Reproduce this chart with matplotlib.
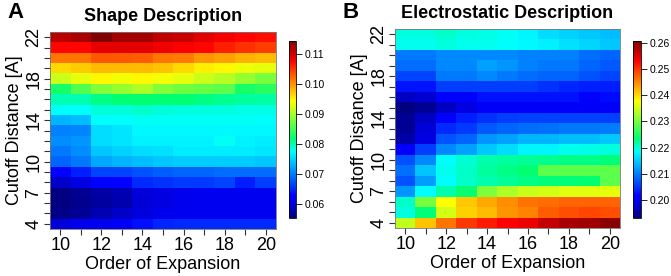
import numpy as np
import matplotlib
matplotlib.use("Agg")
import matplotlib.pyplot as plt
from matplotlib.colors import LinearSegmentedColormap, Normalize

plt.rcParams['font.family'] = ['Liberation Sans', 'DejaVu Sans']

orders = [10, 11, 12, 13, 14, 15, 16, 17, 18, 19, 20]
cutoffs_top_down = [22, 21, 20, 19, 18, 17, 16, 15, 14, 13, 12, 11, 10, 9, 8, 7, 6, 5, 4]
x_tick_labels = ["10", "12", "14", "16", "18", "20"]
y_tick_labels = ["4", "7", "10", "14", "18", "22"]

# Shape description (rows: cutoff 22 -> 4, columns: order 10 -> 20)
shape_values = [
    [0.1112, 0.1122, 0.1144, 0.1125, 0.1125, 0.1110, 0.1105, 0.1092, 0.1082, 0.1075, 0.1072],
    [0.1075, 0.1075, 0.1090, 0.1092, 0.1092, 0.1085, 0.1080, 0.1075, 0.1062, 0.1052, 0.1045],
    [0.1015, 0.1015, 0.1032, 0.1032, 0.1030, 0.1015, 0.1013, 0.0998, 0.0992, 0.0983, 0.0980],
    [0.0963, 0.0969, 0.0980, 0.0980, 0.0980, 0.0975, 0.0963, 0.0951, 0.0946, 0.0935, 0.0931],
    [0.0916, 0.0931, 0.0946, 0.0937, 0.0946, 0.0937, 0.0931, 0.0916, 0.0907, 0.0892, 0.0878],
    [0.0830, 0.0858, 0.0882, 0.0892, 0.0902, 0.0882, 0.0872, 0.0868, 0.0863, 0.0830, 0.0838],
    [0.0800, 0.0800, 0.0812, 0.0820, 0.0820, 0.0820, 0.0820, 0.0816, 0.0810, 0.0806, 0.0803],
    [0.0775, 0.0776, 0.0788, 0.0788, 0.0791, 0.0788, 0.0785, 0.0785, 0.0785, 0.0782, 0.0782],
    [0.0731, 0.0737, 0.0775, 0.0776, 0.0778, 0.0778, 0.0778, 0.0778, 0.0778, 0.0778, 0.0776],
    [0.0702, 0.0705, 0.0755, 0.0760, 0.0772, 0.0772, 0.0772, 0.0772, 0.0772, 0.0772, 0.0772],
    [0.0708, 0.0713, 0.0755, 0.0760, 0.0767, 0.0767, 0.0767, 0.0767, 0.0777, 0.0767, 0.0765],
    [0.0697, 0.0708, 0.0743, 0.0749, 0.0755, 0.0758, 0.0765, 0.0765, 0.0765, 0.0765, 0.0762],
    [0.0685, 0.0697, 0.0725, 0.0731, 0.0737, 0.0743, 0.0746, 0.0746, 0.0746, 0.0746, 0.0743],
    [0.0625, 0.0644, 0.0668, 0.0668, 0.0674, 0.0680, 0.0685, 0.0685, 0.0690, 0.0690, 0.0690],
    [0.0590, 0.0605, 0.0622, 0.0628, 0.0650, 0.0656, 0.0660, 0.0660, 0.0668, 0.0645, 0.0662],
    [0.0553, 0.0563, 0.0572, 0.0580, 0.0600, 0.0605, 0.0610, 0.0612, 0.0612, 0.0612, 0.0612],
    [0.0553, 0.0562, 0.0570, 0.0578, 0.0598, 0.0605, 0.0610, 0.0612, 0.0612, 0.0612, 0.0612],
    [0.0558, 0.0565, 0.0580, 0.0590, 0.0603, 0.0610, 0.0613, 0.0613, 0.0613, 0.0613, 0.0613],
    [0.0600, 0.0610, 0.0612, 0.0615, 0.0635, 0.0648, 0.0650, 0.0650, 0.0650, 0.0650, 0.0650],
]

# Electrostatic description (rows: cutoff 22 -> 4, columns: order 10 -> 20)
electro_values = [
    [0.2198, 0.2198, 0.2205, 0.2196, 0.2194, 0.2189, 0.2180, 0.2162, 0.2156, 0.2149, 0.2142],
    [0.2193, 0.2191, 0.2196, 0.2193, 0.2191, 0.2187, 0.2182, 0.2175, 0.2165, 0.2159, 0.2149],
    [0.2096, 0.2096, 0.2109, 0.2109, 0.2109, 0.2109, 0.2103, 0.2103, 0.2103, 0.2090, 0.2083],
    [0.2090, 0.2090, 0.2109, 0.2109, 0.2123, 0.2116, 0.2103, 0.2096, 0.2096, 0.2083, 0.2076],
    [0.2063, 0.2063, 0.2096, 0.2096, 0.2109, 0.2096, 0.2090, 0.2083, 0.2083, 0.2070, 0.2063],
    [0.2030, 0.2030, 0.2057, 0.2057, 0.2057, 0.2057, 0.2057, 0.2050, 0.2043, 0.2037, 0.2037],
    [0.1975, 0.1981, 0.2012, 0.2015, 0.2030, 0.2030, 0.2030, 0.2030, 0.2030, 0.2012, 0.2024],
    [0.1933, 0.1946, 0.1975, 0.1992, 0.2004, 0.2006, 0.2006, 0.2006, 0.2006, 0.2006, 0.2006],
    [0.1945, 0.1975, 0.2012, 0.2037, 0.2050, 0.2057, 0.2060, 0.2060, 0.2060, 0.2060, 0.2060],
    [0.1946, 0.1987, 0.2045, 0.2055, 0.2075, 0.2085, 0.2090, 0.2093, 0.2096, 0.2096, 0.2100],
    [0.1958, 0.1992, 0.2073, 0.2083, 0.2116, 0.2123, 0.2136, 0.2136, 0.2142, 0.2142, 0.2149],
    [0.2004, 0.2057, 0.2109, 0.2123, 0.2149, 0.2162, 0.2179, 0.2179, 0.2191, 0.2194, 0.2198],
    [0.2070, 0.2109, 0.2187, 0.2202, 0.2216, 0.2220, 0.2223, 0.2227, 0.2230, 0.2230, 0.2234],
    [0.2093, 0.2146, 0.2192, 0.2205, 0.2220, 0.2230, 0.2237, 0.2286, 0.2286, 0.2286, 0.2286],
    [0.2073, 0.2120, 0.2187, 0.2205, 0.2216, 0.2223, 0.2230, 0.2234, 0.2234, 0.2236, 0.2286],
    [0.2116, 0.2186, 0.2216, 0.2240, 0.2305, 0.2330, 0.2347, 0.2352, 0.2360, 0.2360, 0.2363],
    [0.2205, 0.2303, 0.2377, 0.2411, 0.2429, 0.2444, 0.2462, 0.2465, 0.2471, 0.2471, 0.2471],
    [0.2196, 0.2235, 0.2352, 0.2404, 0.2417, 0.2441, 0.2453, 0.2477, 0.2483, 0.2489, 0.2483],
    [0.2341, 0.2414, 0.2459, 0.2496, 0.2514, 0.2532, 0.2541, 0.2564, 0.2581, 0.2587, 0.2600],
]

shape_ticks = [0.06, 0.07, 0.08, 0.09, 0.10, 0.11]
electro_ticks = [0.20, 0.21, 0.22, 0.23, 0.24, 0.25, 0.26]

cmap = LinearSegmentedColormap.from_list("jetlike", [
    (0.0, (0.0, 0.0, 0.5)),
    (0.11, (0.0, 0.0, 1.0)),
    (0.125, (0.0, 0.0, 1.0)),
    (0.375, (0.0, 1.0, 1.0)),
    (0.45, (0.0, 1.0, 0.45)),
    (0.66, (1.0, 1.0, 0.0)),
    (0.89, (1.0, 0.0, 0.0)),
    (1.0, (0.5, 0.0, 0.0)),
])

W, H = 671, 276
fig = plt.figure(figsize=(W / 100, H / 100), dpi=100)


def frac(x0, y0, x1, y1):
    return [x0 / W, 1 - y1 / H, (x1 - x0) / W, (y1 - y0) / H]


def panel(ax_rect, cax_rect, values, ticks, title, letter, letter_x, vmin, vmax):
    ax = fig.add_axes(frac(*ax_rect))
    cax = fig.add_axes(frac(*cax_rect))
    data = np.array(values)[::-1]
    cut = np.array(cutoffs_top_down[::-1])
    xo = np.array(orders)
    xe = np.concatenate([xo - 0.5, [xo[-1] + 0.5]])
    ye = np.concatenate([cut - 0.5, [cut[-1] + 0.5]])
    norm = Normalize(vmin=vmin, vmax=vmax)
    mesh = ax.pcolormesh(xe, ye, data, cmap=cmap, norm=norm, shading='flat')
    ax.set_xlim(xe[0], xe[-1])
    ax.set_ylim(ye[0], ye[-1])
    ax.set_xticks(orders)
    ax.set_xticklabels([str(o) if str(o) in x_tick_labels else "" for o in orders], fontsize=13)
    ax.set_yticks(list(cut))
    ax.set_yticklabels([str(c) if str(c) in y_tick_labels else "" for c in cut],
                       fontsize=13, rotation=90, va='center')
    ax.tick_params(length=4, width=0.8, color='#333333', pad=2)
    ax.tick_params(axis='y', pad=1.5)
    for s in ax.spines.values():
        s.set_linewidth(0.6)
        s.set_color('#777777')
    ax.set_xlabel("Order of Expansion", fontsize=13, labelpad=1)
    ax.set_ylabel("Cutoff Distance [A]", fontsize=13, labelpad=2)
    ax.set_title(title, fontsize=13, fontweight='bold', pad=8)
    fig.text(letter_x / W, 1 - 12 / H, letter, fontsize=16, fontweight='bold',
             ha='left', va='center')
    cb = fig.colorbar(mesh, cax=cax)
    cb.set_ticks(ticks)
    cb.set_ticklabels([f"{t:.2f}" for t in ticks])
    cax.tick_params(labelsize=7.5, length=4, width=0.6, pad=2.5)
    cb.outline.set_linewidth(0.6)
    return ax


panel((50, 32, 276, 229), (289, 41, 296, 218), shape_values, shape_ticks,
      "Shape Description", "A", 7, 0.0553, 0.1144)
panel((395, 29, 620, 228), (633, 41, 641, 218), electro_values, electro_ticks,
      "Electrostatic Description", "B", 343, 0.1933, 0.2606)

fig.savefig("out.png", dpi=100)
